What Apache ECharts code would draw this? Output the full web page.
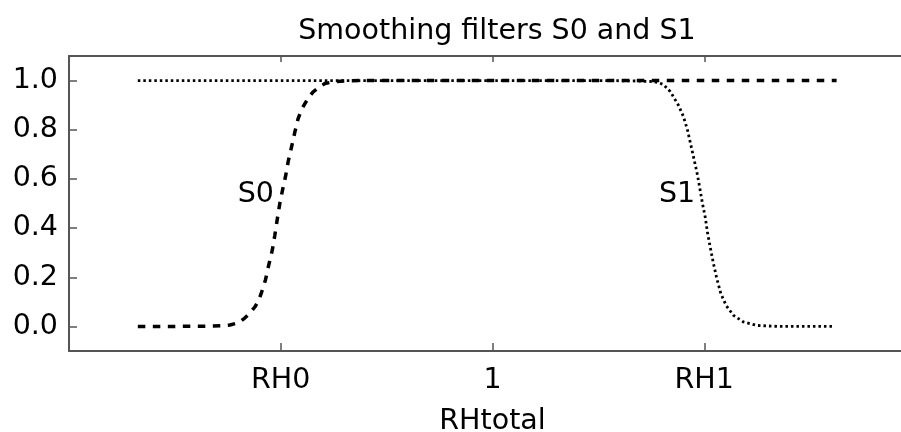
<!DOCTYPE html>
<html>
<head>
<meta charset="utf-8">
<script src="https://cdn.jsdelivr.net/npm/echarts@6/dist/echarts.min.js"></script>
<style>
  html, body { margin: 0; padding: 0; background: #fff; }
  #chart { width: 901px; height: 432px; }
</style>
</head>
<body>
<div id="chart"></div>
<script>
// S0: dashed, rises around RH0
const s0X = [0.665, 0.70, 0.73, 0.745, 0.752, 0.760, 0.766, 0.771, 0.7755, 0.7785, 0.7812, 0.7835, 0.7856, 0.789, 0.792, 0.7944, 0.7966, 0.7991, 0.8017, 0.8045, 0.807, 0.8102, 0.8133, 0.8164, 0.820, 0.8228, 0.827, 0.8306, 0.836, 0.8417, 0.850, 0.860, 0.875, 0.90, 1.0, 1.1, 1.2, 1.325];
const s0Y = [0, 0, 0.001, 0.003, 0.006, 0.015, 0.034, 0.055, 0.079, 0.10, 0.13, 0.16, 0.19, 0.256, 0.31, 0.371, 0.433, 0.50, 0.555, 0.61, 0.67, 0.73, 0.79, 0.845, 0.885, 0.906, 0.935, 0.954, 0.972, 0.988, 0.995, 0.998, 1, 1, 1, 1, 1, 1];

// S1: dotted, falls around RH1
const s1X = [0.665, 0.8, 0.9, 1.0, 1.1, 1.13, 1.145, 1.152, 1.157, 1.1614, 1.1678, 1.1756, 1.1803, 1.1841, 1.1873, 1.1905, 1.1936, 1.1961, 1.1983, 1.2009, 1.203, 1.2056, 1.2087, 1.2119, 1.2157, 1.2207, 1.2276, 1.2371, 1.2497, 1.27, 1.3218];
const s1Y = [1, 1, 1, 1, 1, 0.999, 0.997, 0.996, 0.991, 0.984, 0.956, 0.90, 0.854, 0.80, 0.739, 0.677, 0.616, 0.555, 0.50, 0.445, 0.384, 0.323, 0.256, 0.194, 0.133, 0.085, 0.045, 0.018, 0.004, 0, 0];

const xTickValues = [0.8, 1.0, 1.2];
const xTickLabels = ["RH0", "1", "RH1"];
const yTickValues = [0, 0.2, 0.4, 0.6, 0.8, 1.0];

const annotations = [
    { text: "S0", x: 0.7935, y: 0.535 },
    { text: "S1", x: 1.1914, y: 0.535 }
];

const font = "DejaVu Sans";
const axisColor = "#555";

const chart = echarts.init(document.getElementById("chart"));

const toPairs = (xs, ys) => xs.map((x, i) => [x, ys[i]]);

chart.setOption({
    animation: false,
    title: {
        text: "Smoothing filters S0 and S1",
        left: 492,
        textAlign: "center",
        top: 12,
        textStyle: {
            fontFamily: font,
            fontSize: 28.5,
            fontWeight: "normal",
            color: "#000"
        }
    },
    grid: {
        left: 69,
        top: 56,
        width: 847,
        height: 295,
        containLabel: false,
        outerBoundsMode: "none"
    },
    xAxis: [
        {
            type: "value",
            min: 0.6,
            max: 1.4,
            interval: 0.2,
            position: "bottom",
            name: "RHtotal",
            nameLocation: "middle",
            nameGap: 56,
            nameTextStyle: { fontFamily: font, fontSize: 28.5, color: "#000" },
            axisLine: { show: true, onZero: false, lineStyle: { color: axisColor, width: 2 } },
            axisTick: {
                show: true,
                inside: true,
                length: 8,
                customValues: xTickValues,
                lineStyle: { color: axisColor, width: 1.5 }
            },
            axisLabel: {
                customValues: xTickValues,
                margin: 15,
                fontFamily: font,
                fontSize: 28.5,
                color: "#000",
                formatter: v => {
                    const i = xTickValues.findIndex(t => Math.abs(t - v) < 1e-6);
                    return i >= 0 ? xTickLabels[i] : "";
                }
            },
            splitLine: { show: false }
        },
        {
            type: "value",
            min: 0.6,
            max: 1.4,
            interval: 0.2,
            position: "top",
            axisLine: { show: true, onZero: false, lineStyle: { color: axisColor, width: 2 } },
            axisTick: {
                show: true,
                inside: true,
                length: 6,
                customValues: xTickValues,
                lineStyle: { color: axisColor, width: 1.5 }
            },
            axisLabel: { show: false },
            splitLine: { show: false }
        }
    ],
    yAxis: {
        type: "value",
        min: -0.1,
        max: 1.1,
        axisLine: { show: true, onZero: false, lineStyle: { color: axisColor, width: 2 } },
        axisTick: {
            show: true,
            inside: true,
            length: 8,
            customValues: yTickValues,
            lineStyle: { color: axisColor, width: 1.5 }
        },
        axisLabel: {
            customValues: yTickValues,
            margin: 11,
            fontFamily: font,
            fontSize: 28.5,
            color: "#000",
            formatter: v => v.toFixed(1)
        },
        splitLine: { show: false }
    },
    series: [
        {
            name: "S0",
            type: "line",
            showSymbol: false,
            data: toPairs(s0X, s0Y),
            lineStyle: { color: "#000", width: 3.5, type: [7.5, 7.5] }
        },
        {
            name: "S1",
            type: "line",
            showSymbol: false,
            data: toPairs(s1X, s1Y),
            lineStyle: { color: "#000", width: 2.8, type: [2.5, 3] }
        },
        {
            name: "labels",
            type: "scatter",
            symbolSize: 0,
            itemStyle: { opacity: 1 },
            data: annotations.map(a => ({ value: [a.x, a.y], name: a.text })),
            label: {
                show: true,
                position: "left",
                distance: 0,
                formatter: p => p.name,
                fontFamily: font,
                fontSize: 28.5,
                color: "#000"
            }
        }
    ]
});
</script>
</body>
</html>
